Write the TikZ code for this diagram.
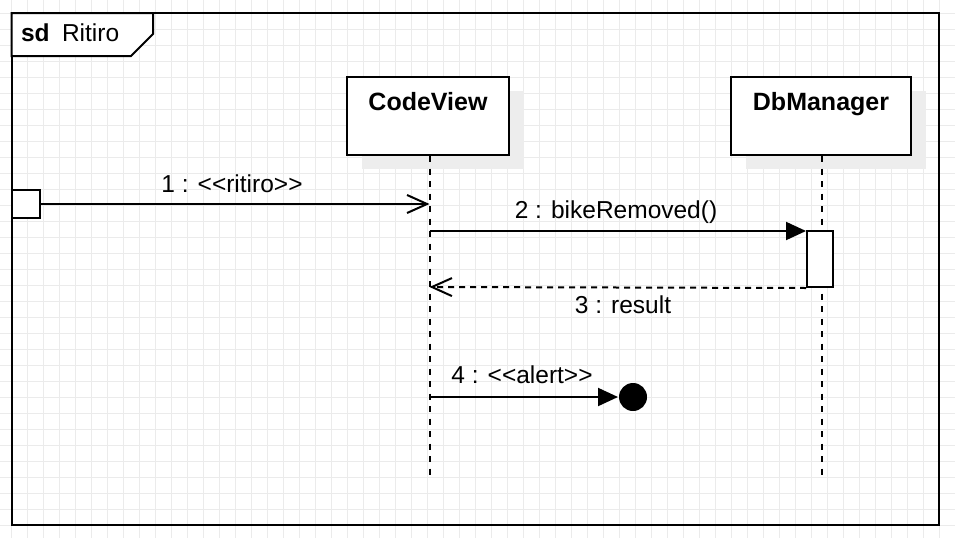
\documentclass[tikz,border=0pt]{standalone}
\usepackage{fontspec}
\setmainfont{Liberation Sans}
\usetikzlibrary{arrows.meta}

\begin{document}
\begin{tikzpicture}[x=1pt,y=-1pt,line width=2pt,
  gridline/.style={line width=0.8pt,draw=black!8},
  headbox/.style={draw,fill=white,minimum width=162pt,minimum height=78pt,inner sep=0pt},
  shadowbox/.style={fill=black!7,minimum width=162pt,minimum height=78pt,inner sep=0pt},
  headtext/.style={font=\fontsize{25}{29}\selectfont\bfseries,anchor=base,inner sep=0pt},
  lifeline/.style={dash pattern=on 6pt off 6.5pt},
  msglbl/.style={font=\fontsize{24.5}{29}\selectfont,anchor=base,inner sep=0pt},
  call/.style={-{Triangle[length=20pt,width=18pt]}},
  async/.style={-{Straight Barb[length=20pt,width=18pt]}},
  reply/.style={-{Straight Barb[length=20pt,width=18pt]},dash pattern=on 6pt off 5pt},
  actbox/.style={draw,fill=white,minimum width=26pt,minimum height=56pt,inner sep=0pt}]
\useasboundingbox (0,0) rectangle (955,538);

% grid
\foreach \i in {0,...,58}
  \draw[gridline] ({11.5+16*\i},0) -- ({11.5+16*\i},538);
\foreach \j in {0,...,32}
  \draw[gridline] (0,{13+16*\j}) -- (955,{13+16*\j});

% frame
\draw (11.5,13) rectangle (939,525);
\draw[fill=white] (11.5,13) -- (153,13) -- (153,34) -- (131,56) -- (11.5,56) -- cycle;
\node[msglbl,anchor=base west] (sdkw) at (20,41) {\bfseries sd};
\node[msglbl,anchor=base west] (sdname) at (61,41) {Ritiro};

% lifelines
\node[shadowbox] (cvshadow) at (442.5,130) {};
\node[shadowbox,minimum width=180pt] (dbshadow) at (835.5,130) {};
\node[headbox] (codeview) at (428,116) {};
\node[headbox,minimum width=180pt] (dbmanager) at (821,116) {};
\node[headtext] (cvname) at (428,110) {CodeView};
\node[headtext] (dbname) at (821,110) {DbManager};
\coordinate (cvend) at (429.5,476);
\coordinate (dbend) at (821.5,476);
\draw[lifeline] (codeview.south -| cvend) -- (cvend);
\draw[lifeline] (dbmanager.south -| dbend) -- (dbend);

\node[actbox] (act) at (820,259) {};

% found message
\node[draw,fill=white,minimum size=28pt,inner sep=0pt] (found) at (25.5,204) {};
\coordinate (m1) at (429.5,204);
\draw[async] (found.east) -- (m1);
\node[msglbl] (m1lbl) at (232,192) {1 : <{}<ritiro>{}>};

% call and reply
\coordinate (m2) at (429.5,231);
\draw[call] (m2) -- (m2 -| act.west);
\node[msglbl] (m2lbl) at (616,218) {2 : bikeRemoved()};
\coordinate (m3) at (429.5,287);
\draw[reply] (act.south west) -- (m3);
\node[msglbl] (m3lbl) at (623,313) {3 : result};

% lost message
\node[circle,fill=black,minimum size=28pt,inner sep=0pt] (lost) at (633,397) {};
\coordinate (m4) at (429.5,397);
\draw[call] (m4) -- (lost.west);
\node[msglbl] (m4lbl) at (522,383) {4 : <{}<alert>{}>};
\end{tikzpicture}
\end{document}
